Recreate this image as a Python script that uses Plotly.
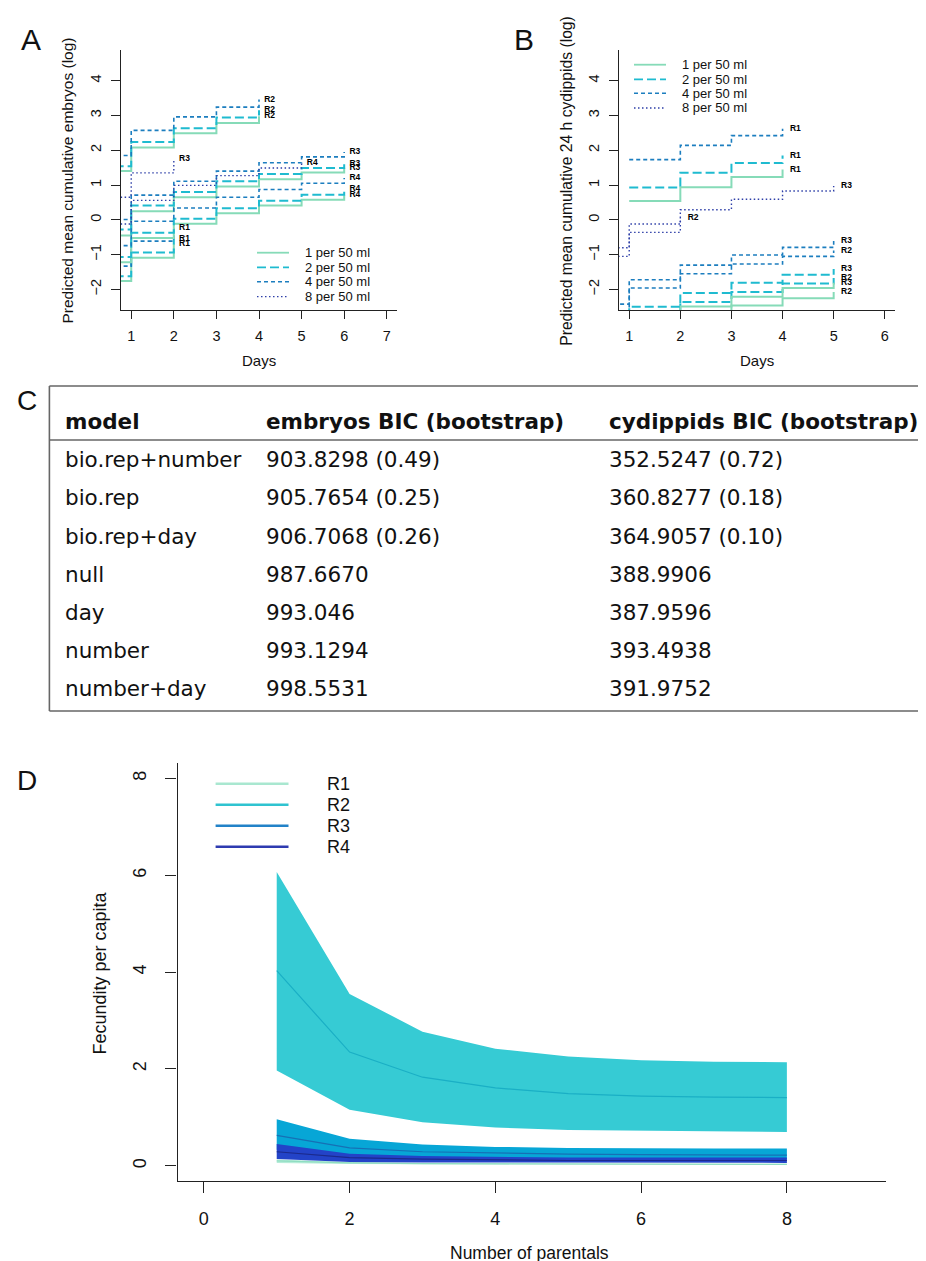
import plotly.graph_objects as go

W, H = 926, 1261

# ---------------- data ----------------
density_labels = ["1 per 50 ml", "2 per 50 ml", "4 per 50 ml", "8 per 50 ml"]

# Panel A: predicted mean cumulative embryos (log); first value = before day 1 (day 0)
embA_R1_1 = [-1.76, -1.09, -0.69]
embA_R1_2 = [-1.62, -0.94, -0.54]
embA_R1_4 = [-1.33, -0.61, -0.23]
embA_R2_1 = [1.40, 2.08, 2.49, 2.78, 2.98]
embA_R2_2 = [1.54, 2.24, 2.63, 2.94, 3.15]
embA_R2_4 = [1.85, 2.57, 2.96, 3.24, 3.46]
embA_R3_1 = [-0.45, 0.25, 0.65, 0.96, 1.17, 1.36, 1.50]
embA_R3_2 = [-0.28, 0.41, 0.80, 1.11, 1.32, 1.49, 1.62]
embA_R3_4 = [0.01, 0.71, 1.11, 1.40, 1.64, 1.81, 1.95]
embA_R3_8 = [0.65, 1.35, 1.75]
embA_R4_1 = [-1.22, -0.52, -0.11, 0.19, 0.41, 0.58, 0.71]
embA_R4_2 = [-1.07, -0.37, 0.03, 0.33, 0.55, 0.72, 0.89]
embA_R4_4 = [-0.74, -0.04, 0.34, 0.65, 0.87, 1.05, 1.20]
embA_R4_8 = [-0.12, 0.56, 0.99, 1.27, 1.49, 1.64]

# (replicate, density index, first day, values)
seriesA = [
    ("R1", 0, 0, embA_R1_1), ("R1", 1, 0, embA_R1_2), ("R1", 2, 0, embA_R1_4),
    ("R2", 0, 0, embA_R2_1), ("R2", 1, 0, embA_R2_2), ("R2", 2, 0, embA_R2_4),
    ("R3", 0, 0, embA_R3_1), ("R3", 1, 0, embA_R3_2), ("R3", 2, 0, embA_R3_4),
    ("R3", 3, 0, embA_R3_8),
    ("R4", 0, 0, embA_R4_1), ("R4", 1, 0, embA_R4_2), ("R4", 2, 0, embA_R4_4),
    ("R4", 3, 0, embA_R4_8),
]

# Panel B: predicted mean cumulative 24 h cydippids (log)
cydB_R1_1 = [0.54, 0.94, 1.23, 1.45]          # days 1..4
cydB_R1_2 = [0.93, 1.35, 1.63, 1.85]
cydB_R1_4 = [1.73, 2.14, 2.42, 2.62]
cydB_R2_1 = [-3.45, -3.16, -2.75, -2.46, -2.25, -2.07]   # days 0..5
cydB_R2_2 = [-3.47, -2.77, -2.36, -2.07, -1.83, -1.67]
cydB_R2_4 = [-2.66, -1.96, -1.55, -1.27, -1.05, -0.88]
cydB_R2_8 = [-1.05, -0.36, 0.05]                          # days 0..2
cydB_R3_1 = [-3.60, -2.90, -2.49, -2.21, -1.96, -1.81]
cydB_R3_2 = [-3.20, -2.50, -2.10, -1.81, -1.58, -1.41]
cydB_R3_4 = [-2.42, -1.72, -1.30, -1.01, -0.79, -0.61]
cydB_R3_8 = [-0.80, -0.12, 0.29, 0.59, 0.83, 0.97]

seriesB = [
    ("R1", 0, 1, cydB_R1_1), ("R1", 1, 1, cydB_R1_2), ("R1", 2, 1, cydB_R1_4),
    ("R2", 0, 0, cydB_R2_1), ("R2", 1, 0, cydB_R2_2), ("R2", 2, 0, cydB_R2_4),
    ("R2", 3, 0, cydB_R2_8),
    ("R3", 0, 0, cydB_R3_1), ("R3", 1, 0, cydB_R3_2), ("R3", 2, 0, cydB_R3_4),
    ("R3", 3, 0, cydB_R3_8),
]

# Panel C: BIC table
table_headers = ["model", "embryos BIC (bootstrap)", "cydippids BIC (bootstrap)"]
table_models = ["bio.rep+number", "bio.rep", "bio.rep+day", "null", "day", "number", "number+day"]
table_embryos = ["903.8298 (0.49)", "905.7654 (0.25)", "906.7068 (0.26)", "987.6670",
                 "993.046", "993.1294", "998.5531"]
table_cydippids = ["352.5247 (0.72)", "360.8277 (0.18)", "364.9057 (0.10)", "388.9906",
                   "387.9596", "393.4938", "391.9752"]

# Panel D: fecundity per capita vs number of parentals
parentals = [1, 2, 3, 4, 5, 6, 7, 8]
fec_R1_mean = [0.10, 0.06, 0.045, 0.04, 0.035, 0.03, 0.03, 0.03]
fec_R1_up = [0.13, 0.08, 0.06, 0.05, 0.05, 0.045, 0.04, 0.04]
fec_R1_lo = [0.06, 0.035, 0.025, 0.02, 0.02, 0.02, 0.02, 0.02]
fec_R2_mean = [4.03, 2.35, 1.83, 1.61, 1.49, 1.44, 1.42, 1.41]
fec_R2_up = [6.07, 3.55, 2.77, 2.42, 2.26, 2.18, 2.15, 2.14]
fec_R2_lo = [1.97, 1.16, 0.90, 0.79, 0.74, 0.72, 0.71, 0.70]
fec_R3_mean = [0.63, 0.37, 0.29, 0.26, 0.24, 0.23, 0.23, 0.22]
fec_R3_up = [0.96, 0.56, 0.44, 0.39, 0.37, 0.36, 0.36, 0.36]
fec_R3_lo = [0.33, 0.20, 0.16, 0.14, 0.13, 0.13, 0.13, 0.13]
fec_R4_mean = [0.29, 0.17, 0.14, 0.12, 0.11, 0.11, 0.11, 0.11]
fec_R4_up = [0.45, 0.25, 0.20, 0.18, 0.17, 0.17, 0.17, 0.17]
fec_R4_lo = [0.14, 0.08, 0.07, 0.06, 0.06, 0.06, 0.06, 0.06]
rep_names = ["R1", "R2", "R3", "R4"]

# ---------------- styles ----------------
dens_colors = ["#86DBB8", "#1FBBD0", "#1C7EBF", "#2E3FA8"]
dens_dash = ["solid", "9px,4px", "4px,3px", "1.5px,2.5px"]
dens_width = [2.0, 2.0, 1.6, 1.4]
band_fill = ["#B6ECD9", "#36CBD4", "#07A6D6", "#2343C8"]
band_line = ["#8FDDC1", "#1AAFC5", "#1670B5", "#1B2A8C"]
legD_color = ["#A9E7D0", "#2FC3D0", "#2282C8", "#2E3BB0"]

SANS = "Liberation Sans, Arial, Helvetica, sans-serif"
WIDE = "DejaVu Sans, Verdana, sans-serif"


def X(p):
    return p / W


def Y(p):
    return 1 - p / H


fig = go.Figure()


def add_steps(series, xa, ya):
    for rep, d, start, vals in series:
        days = list(range(start, start + len(vals)))
        fig.add_trace(go.Scatter(
            x=days, y=vals, mode="lines", xaxis=xa, yaxis=ya,
            line=dict(shape="hv", color=dens_colors[d], width=dens_width[d], dash=dens_dash[d]),
            hoverinfo="skip", showlegend=False))
    for rep, d, start, vals in series:
        last = start + len(vals) - 1
        fig.add_trace(go.Scatter(
            x=[last + 0.25], y=[vals[-1]], mode="text", xaxis=xa, yaxis=ya,
            text=["<b>" + rep + "</b>"], textposition="middle center",
            textfont=dict(size=8.5, color="#000", family=SANS),
            hoverinfo="skip", showlegend=False))


add_steps(seriesA, "x", "y")
add_steps(seriesB, "x2", "y2")

bands = [(fec_R1_up, fec_R1_lo, fec_R1_mean), (fec_R2_up, fec_R2_lo, fec_R2_mean),
         (fec_R3_up, fec_R3_lo, fec_R3_mean), (fec_R4_up, fec_R4_lo, fec_R4_mean)]
for i, (up, lo, mean) in enumerate(bands):
    fig.add_trace(go.Scatter(
        x=parentals + parentals[::-1], y=up + lo[::-1], mode="lines", fill="toself",
        fillcolor=band_fill[i], line=dict(width=0, color=band_fill[i]),
        xaxis="x3", yaxis="y3", hoverinfo="skip", showlegend=False))
    fig.add_trace(go.Scatter(
        x=parentals, y=mean, mode="lines", line=dict(color=band_line[i], width=1.2),
        xaxis="x3", yaxis="y3", hoverinfo="skip", showlegend=False))

# ---------------- axes ----------------
common = dict(showline=True, linecolor="#222", linewidth=1.3, ticks="outside",
              tickcolor="#222", tickwidth=1, showgrid=False, zeroline=False,
              fixedrange=True)
tfAB = dict(size=14.5, family=SANS, color="#111")
tfD = dict(size=18, family=SANS, color="#111")

fig.update_layout(
    width=W, height=H, margin=dict(l=0, r=0, t=0, b=0),
    paper_bgcolor="white", plot_bgcolor="white", showlegend=False,
    xaxis=dict(domain=[X(113), X(389)], range=[0.76, 7.24], tickvals=[1, 2, 3, 4, 5, 6, 7],
               ticklen=8, anchor="y", tickfont=tfAB, ticklabelstandoff=4, **common),
    yaxis=dict(domain=[Y(302), Y(42)], range=[-2.59, 4.88], tickvals=[-2, -1, 0, 1, 2, 3, 4],
               ticklen=9, tickangle=-90, anchor="x", tickfont=tfAB, ticklabelstandoff=4, **common),
    xaxis2=dict(domain=[X(611), X(887)], range=[0.8, 6.2], tickvals=[1, 2, 3, 4, 5, 6],
                ticklen=8, anchor="y2", tickfont=tfAB, ticklabelstandoff=4, **common),
    yaxis2=dict(domain=[Y(302), Y(42)], range=[-2.59, 4.88], tickvals=[-2, -1, 0, 1, 2, 3, 4],
                ticklen=9, tickangle=-90, anchor="x2", tickfont=tfAB, ticklabelstandoff=4, **common),
    xaxis3=dict(domain=[X(169.6), X(878)], range=[-0.36, 9.36], tickvals=[0, 2, 4, 6, 8],
                ticklen=11, anchor="y3", tickfont=tfD, ticklabelstandoff=10, **common),
    yaxis3=dict(domain=[Y(1173.3), Y(755)], range=[-0.32, 8.32], tickvals=[0, 2, 4, 6, 8],
                ticklen=11, tickangle=-90, anchor="x3", tickfont=tfD, ticklabelstandoff=12, **common),
)

ann = []
shapes = []


def text(x, y, s, size, family=SANS, angle=0, xanchor="center", color="#111"):
    ann.append(dict(x=X(x), y=Y(y), xref="paper", yref="paper", text=s, showarrow=False,
                    xanchor=xanchor, yanchor="middle", textangle=angle, borderpad=0,
                    font=dict(size=size, family=family, color=color)))


def hline(x0, x1, y, color, width, dash="solid"):
    shapes.append(dict(type="line", xref="paper", yref="paper", x0=X(x0), x1=X(x1),
                       y0=Y(y), y1=Y(y), line=dict(color=color, width=width, dash=dash)))


def vline(x, y0, y1, color, width):
    shapes.append(dict(type="line", xref="paper", yref="paper", x0=X(x), x1=X(x),
                       y0=Y(y0), y1=Y(y1), line=dict(color=color, width=width)))


# panel letters
text(23, 31, "A", 30)
text(516, 31, "B", 30)
text(19, 392, "C", 28)
text(19, 772, "D", 28)

# axis titles
text(59, 172.5, "Predicted mean cumulative embryos (log)", 15.5, angle=-90)
text(558.3, 172.5, "Predicted mean cumulative 24 h cydippids (log)", 15.7, angle=-90)
text(251, 352, "Days", 15)
text(749, 352, "Days", 15)
text(91.5, 965, "Fecundity per capita", 18, angle=-90)
text(521, 1245, "Number of parentals", 17.5)

# legends A and B
for (lx0, lx1, tx, ys) in [(249, 281, 295.7, [244.7, 259.3, 273.7, 288.7]),
                           (626, 658, 672.7, [56.7, 71.3, 85.3, 100.0])]:
    for i, yy in enumerate(ys):
        hline(lx0, lx1, yy, dens_colors[i], dens_width[i] * 0.8 + 0.2, dens_dash[i])
        text(tx, yy, density_labels[i], 13, xanchor="left")

# legend D
for i, yy in enumerate([775.7, 796.7, 817.7, 838.7]):
    hline(207.6, 280.5, yy, legD_color[i], 2.5)
    text(318, yy, rep_names[i], 18, xanchor="left")

# table C
tcol = "#666"
hline(41.4, 926, 378, tcol, 1.6)
hline(41.4, 926, 432, tcol, 1.6)
hline(41.4, 926, 703, tcol, 1.6)
vline(41.4, 378, 703, tcol, 1.6)
col_x = [56, 257, 600]
for j, h in enumerate(table_headers):
    text(col_x[j], 413.3, "<b>" + h + "</b>", 21.5, family=WIDE, xanchor="left")
for i in range(len(table_models)):
    yy = 451.7 + i * 38.15
    text(col_x[0], yy, table_models[i], 21.5, family=WIDE, xanchor="left")
    text(col_x[1], yy, table_embryos[i], 21.5, family=WIDE, xanchor="left")
    text(col_x[2], yy, table_cydippids[i], 21.5, family=WIDE, xanchor="left")

fig.update_layout(annotations=ann, shapes=shapes)
fig.write_html("out.html")
